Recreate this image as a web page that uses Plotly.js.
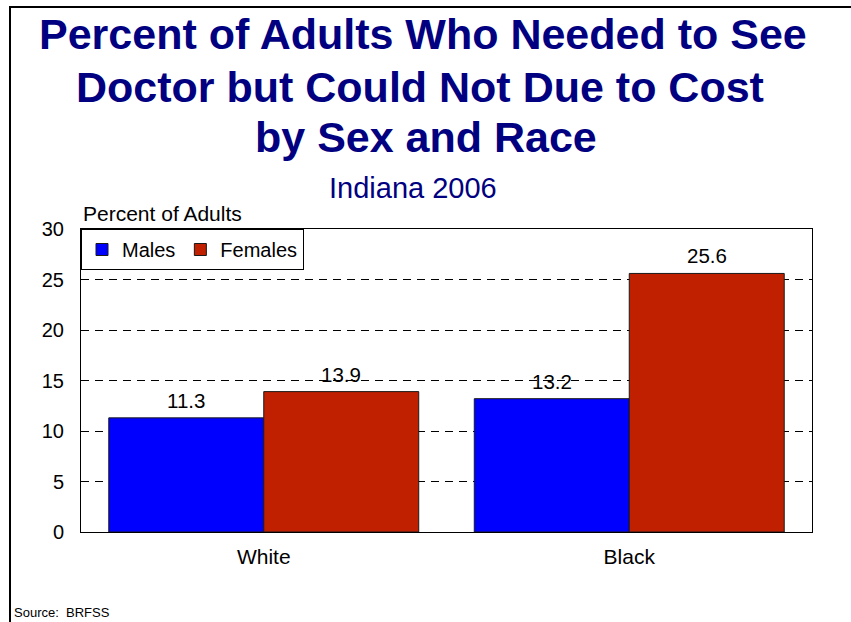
<!DOCTYPE html>
<html>
<head>
<meta charset="utf-8">
<script src="https://cdn.plot.ly/plotly-3.0.1.min.js"></script>
<style>
  html, body { margin: 0; padding: 0; background: #fff; }
  #chart { width: 851px; height: 622px; }
</style>
</head>
<body>
<div id="chart"></div>
<script>
// ---- data ----
const categories = ["White", "Black"];
const seriesNames = ["Males", "Females"];
const males = [11.3, 13.2];
const females = [13.9, 25.6];
const yTicks = [0, 5, 10, 15, 20, 25, 30];

const titleLines = [
  "Percent of Adults Who Needed to See",
  "Doctor but Could Not Due to Cost",
  "by Sex and Race"
];
const subtitle = "Indiana 2006";
const yLabel = "Percent of Adults";
const sourceText = "Source:  BRFSS";

// ---- style ----
const FONT = "Liberation Sans, Arial, Helvetica, sans-serif";
const NAVY = "#000080";
const colors = ["#0000FF", "#C02000"];
const bargap = 0.152;

const W = 851, H = 622;
const M = { l: 81, r: 39, t: 229, b: 90 };
const pw = W - M.l - M.r, ph = H - M.t - M.b;
const px = x => (x - M.l) / pw;          // page pixel -> paper x
const py = y => (H - M.b - y) / ph;      // page pixel -> paper y

const allSeries = [males, females];
const traces = allSeries.map((vals, j) => ({
  type: "bar",
  name: seriesNames[j],
  x: categories,
  y: vals,
  marker: { color: colors[j], line: { color: "#1a1a1a", width: 1 } },
  hoverinfo: "none"
}));

// value labels above bars
const annotations = [];
const barW = (1 - bargap) / allSeries.length;
allSeries.forEach((vals, j) => {
  vals.forEach((v, i) => {
    annotations.push({
      xref: "x", yref: "y",
      x: i + (j - (allSeries.length - 1) / 2) * barW,
      y: v,
      text: v.toFixed(1),
      showarrow: false,
      yanchor: "bottom",
      yshift: 4,
      font: { family: FONT, size: 20.5, color: "#000" }
    });
  });
});

// titles
const titleY = [34.5, 87, 137];
const titleX = [423, 420, 426];
titleLines.forEach((t, k) => {
  annotations.push({
    xref: "paper", yref: "paper",
    x: px(titleX[k]), y: py(titleY[k]),
    xanchor: "center", yanchor: "middle",
    text: "<b>" + t + "</b>",
    showarrow: false,
    font: { family: FONT, size: 43, color: NAVY }
  });
});
annotations.push({
  xref: "paper", yref: "paper",
  x: px(413), y: py(188),
  xanchor: "center", yanchor: "middle",
  text: subtitle, showarrow: false,
  font: { family: FONT, size: 29, color: NAVY }
});
annotations.push({
  xref: "paper", yref: "paper",
  x: px(81), y: py(213),
  xanchor: "left", yanchor: "middle",
  text: yLabel, showarrow: false,
  font: { family: FONT, size: 21, color: "#000" }
});
annotations.push({
  xref: "paper", yref: "paper",
  x: px(12), y: py(622),
  xanchor: "left", yanchor: "bottom",
  text: sourceText, showarrow: false,
  font: { family: FONT, size: 13, color: "#000" }
});

const shapes = [
  { type: "line", xref: "paper", yref: "paper",
    x0: px(10), y0: py(625), x1: px(10), y1: py(7),
    line: { color: "#000", width: 2 } },
  { type: "line", xref: "paper", yref: "paper",
    x0: px(9), y0: py(7), x1: px(855), y1: py(7),
    line: { color: "#000", width: 2 } }
];

const layout = {
  width: W, height: H,
  margin: M,
  paper_bgcolor: "#fff",
  plot_bgcolor: "#fff",
  barmode: "group",
  bargap: bargap,
  bargroupgap: 0,
  showlegend: true,
  legend: {
    x: 0, y: 1, xanchor: "left", yanchor: "top",
    orientation: "h",
    bgcolor: "#fff",
    bordercolor: "#000",
    borderwidth: 1,
    font: { family: FONT, size: 20, color: "#000" },
    itemwidth: 30,
    traceorder: "normal"
  },
  xaxis: {
    type: "category",
    showgrid: false,
    showline: true, linecolor: "#000", linewidth: 1, mirror: true,
    ticks: "",
    ticklabelstandoff: 6,
    tickfont: { family: FONT, size: 21, color: "#000" },
    fixedrange: true
  },
  yaxis: {
    range: [0, 30],
    tickvals: yTicks,
    ticktext: yTicks.map(String),
    showgrid: true, gridcolor: "#000", gridwidth: 1, griddash: "8px,6px",
    zeroline: false,
    showline: true, linecolor: "#000", linewidth: 1, mirror: true,
    ticks: "",
    ticklabelstandoff: 12,
    tickfont: { family: FONT, size: 20, color: "#000" },
    fixedrange: true
  },
  annotations: annotations,
  shapes: shapes,
  font: { family: FONT }
};

Plotly.newPlot("chart", traces, layout, { displayModeBar: false, staticPlot: true });
</script>
</body>
</html>
